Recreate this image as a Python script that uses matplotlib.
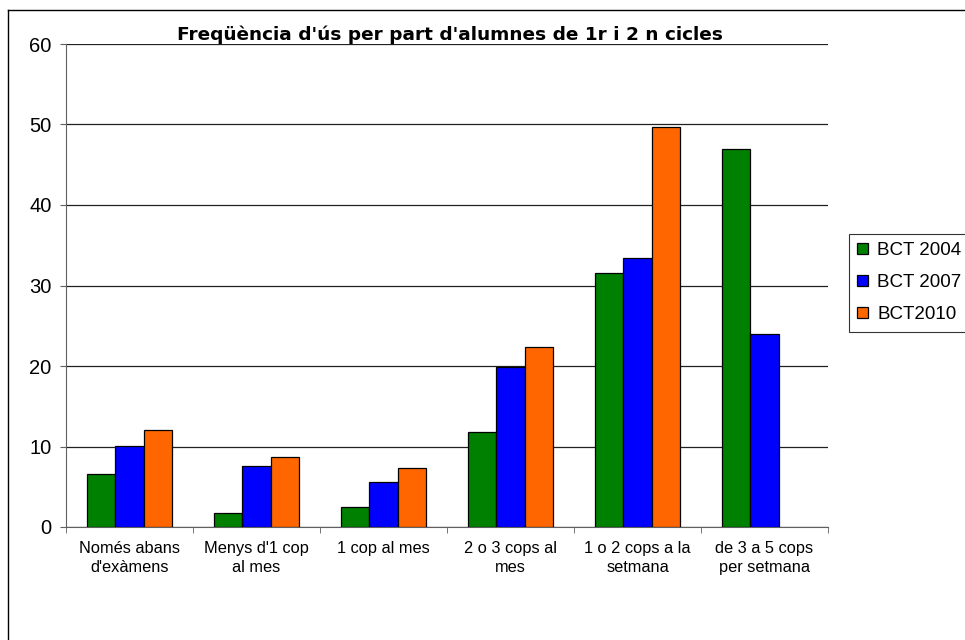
import numpy as np
import matplotlib
matplotlib.use("Agg")
import matplotlib.pyplot as plt
from matplotlib.ticker import FixedLocator
from matplotlib.lines import Line2D

plt.rcParams['font.family'] = ['Liberation Sans', 'DejaVu Sans']

# dades llegides del gràfic
categories = ["Només abans\nd'exàmens", "Menys d'1 cop\nal mes", "1 cop al mes",
              "2 o 3 cops al\nmes", "1 o 2 cops a la\nsetmana", "de 3 a 5 cops\nper setmana"]
bct_2004 = [6.6, 1.7, 2.45, 11.8, 31.5, 47.0]
bct_2007 = [10.1, 7.6, 5.6, 19.9, 33.4, 24.0]
bct_2010 = [12.0, 8.7, 7.3, 22.4, 49.7, np.nan]
series_names = ["BCT 2004", "BCT 2007", "BCT2010"]
colors = ["#008000", "#0000FF", "#FF6600"]

W, H = 965, 640
fig = plt.figure(figsize=(W / 100, H / 100), dpi=100)
ax = fig.add_axes([66 / W, 1 - 527 / H, 762 / W, 483 / H])

x = np.arange(len(categories))
width = 0.223
for i, (vals, name, col) in enumerate(zip([bct_2004, bct_2007, bct_2010], series_names, colors)):
    ax.bar(x + (i - 1) * width, vals, width, color=col, edgecolor="black",
           linewidth=0.9, label=name, zorder=3)

ax.set_xlim(-0.5, len(categories) - 0.5)
ax.set_ylim(0, 60)
ax.set_yticks(range(0, 61, 10))
ax.tick_params(axis="y", labelsize=14.5, direction="out", length=4.5, pad=6,
               color="#606060")
ax.set_xticks(x)
ax.set_xticklabels(categories, fontsize=11.8, linespacing=1.35)
ax.tick_params(axis="x", length=0, pad=10)
ax.xaxis.set_minor_locator(FixedLocator(np.arange(-0.5, len(categories), 1.0)))
ax.tick_params(axis="x", which="minor", length=4, color="#606060", direction="out")

ax.grid(axis="y", color="#202020", linewidth=0.9, zorder=0)
for side in ["top", "right"]:
    ax.spines[side].set_visible(False)
ax.spines["left"].set_color("#606060")
ax.spines["bottom"].set_color("#606060")

fig.text(450 / W, 1 - 39.5 / H, "Freqüència d'ús per part d'alumnes de 1r i 2 n cicles",
         ha="center", va="baseline", fontsize=13.3, fontweight="bold",
         family="DejaVu Sans")

leg = fig.legend(loc="upper left", bbox_to_anchor=(849 / W, 1 - 234 / H),
                 fontsize=13.5, frameon=True, fancybox=False, borderpad=0.45,
                 handlelength=0.55, handleheight=0.55, handletextpad=0.5,
                 labelspacing=0.8, borderaxespad=0)
leg.get_frame().set_edgecolor("black")
leg.get_frame().set_linewidth(0.8)

# marc exterior (només costats esquerre i superior visibles)
fig.lines.append(Line2D([8 / W, 8 / W], [0, 1 - 10 / H], transform=fig.transFigure,
                        color="black", linewidth=1))
fig.lines.append(Line2D([8 / W, 1], [1 - 10 / H, 1 - 10 / H], transform=fig.transFigure,
                        color="black", linewidth=1))

fig.savefig("out.png", dpi=100)
